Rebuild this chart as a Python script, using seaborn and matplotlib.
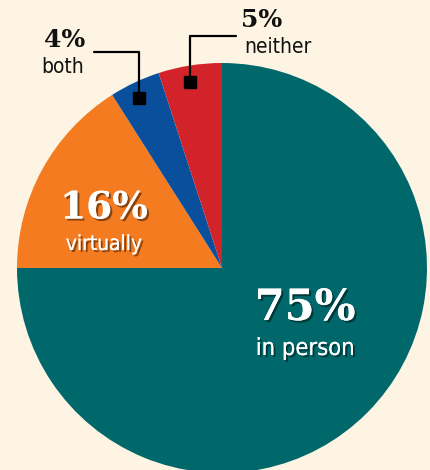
import matplotlib.pyplot as plt
import matplotlib.patheffects as pe
import seaborn as sns

# Data
labels = ["in person", "virtually", "both", "neither"]
shares = [75, 16, 4, 5]
colors = ["#00686a", "#f47b20", "#0a4f9c", "#d2232a"]

sns.set_theme(style="white")
bg = "#fdf4e3"

fig = plt.figure(figsize=(4.3, 4.7), dpi=100, facecolor=bg)
ax = fig.add_axes([0, 0, 1, 1])
ax.set_facecolor(bg)

ax.pie(shares, colors=colors, startangle=90, counterclock=False,
       radius=1, center=(0, 0), wedgeprops={"linewidth": 0})

# pixel -> data helper (205 px per unit, centre at 222,268)
def p2d(px, py):
    return (px - 222) / 205, (268 - py) / 205

ax.set_xlim(-222 / 205, (430 - 222) / 205)
ax.set_ylim(-(470 - 268) / 205, 268 / 205)
ax.set_aspect("auto")
ax.axis("off")

shadow = [pe.withSimplePatchShadow(offset=(1.5, -1.5), shadow_rgbFace="black", alpha=0.45), pe.Normal()]
serif = "DejaVu Serif"
sans = "DejaVu Sans"

# inside labels
for (px, py), pct, lab, fs, fs2, dy in [((305, 308), "75%", "in person", 31, 17, 40),
                                        ((104, 208), "16%", "virtually", 27, 15, 36)]:
    x, y = p2d(px, py)
    ax.text(x, y, pct, color="white", fontsize=fs, fontweight="bold", family=serif,
            ha="center", va="center", path_effects=shadow)
    x2, y2 = p2d(px, py + dy)
    ax.text(x2, y2, lab, color="white", fontsize=fs2, family=sans, stretch="condensed",
            ha="center", va="center", path_effects=shadow)

# outside labels with leader lines
for pct, lab, (tx, ty), pts in [("4%", "both", (65, 40), [(139, 98), (139, 52), (94, 52)]),
                                ("5%", "neither", (262, 20), [(190, 82), (190, 36), (236, 36)])]:
    xs, ys = zip(*[p2d(a, b) for a, b in pts])
    ax.plot(xs, ys, color="black", lw=1.6)
    ax.plot(xs[0], ys[0], marker="s", ms=9, color="black", ls="none")
    x, y = p2d(tx, ty)
    ax.text(x, y, pct, color="#111111", fontsize=18, fontweight="bold", family=serif,
            ha="center", va="center")
    x2, y2 = p2d(tx + (-2 if lab == "both" else 16), ty + 27)
    ax.text(x2, y2, lab, color="#111111", fontsize=15, family=sans, stretch="condensed",
            ha="center", va="center")

plt.savefig("out.png", dpi=100, facecolor=bg)
